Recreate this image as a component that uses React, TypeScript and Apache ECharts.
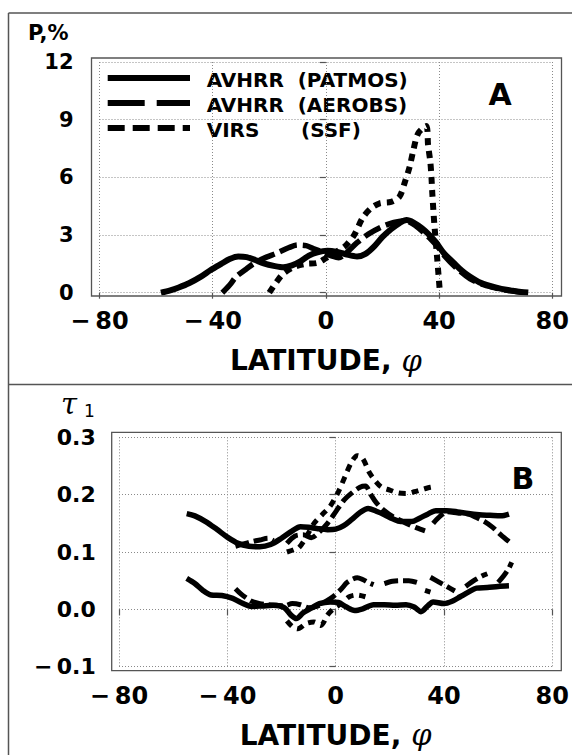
import React, { useEffect, useRef } from "react";
import * as echarts from "echarts";

// ---------- Panel A: frequency P, % vs latitude ----------
const patmosA: [number, number][] = [
  [-58.3, 0], [-55, 0.12], [-52, 0.27], [-48.4, 0.49], [-44, 0.85], [-40.7, 1.18], [-37, 1.5],
  [-34, 1.75], [-31, 1.88], [-28, 1.85], [-25, 1.7], [-22, 1.52], [-18, 1.38], [-15, 1.32],
  [-12, 1.42], [-9, 1.63], [-6, 1.93], [-3, 2.1], [0.5, 2.18], [4, 2.12], [7, 2.0], [11, 1.88],
  [14, 2.02], [17, 2.4], [20, 2.9], [23, 3.3], [26, 3.62], [28.5, 3.78], [31, 3.65], [34, 3.35],
  [36.6, 3.0], [39, 2.6], [41.7, 2.05], [45, 1.58], [48, 1.15], [50.7, 0.85], [54, 0.56],
  [58, 0.35], [62, 0.2], [66, 0.1], [69, 0.04], [71.5, 0.01],
];
const aerobsA: [number, number][] = [
  [-36.6, 0], [-34, 0.4], [-31.7, 0.83], [-28, 1.25], [-25, 1.56], [-21, 1.85], [-17.5, 2.05],
  [-13, 2.35], [-10, 2.48], [-7, 2.45], [-4.5, 2.3], [-1, 2.1], [2, 1.92], [4.5, 1.82], [7, 2.05],
  [11, 2.6], [15, 3.05], [19.8, 3.43], [24, 3.65], [28, 3.75], [31, 3.55], [34, 3.2], [36.6, 2.85],
  [40, 2.3], [42, 1.9], [46, 1.3], [51, 0.72], [56, 0.4], [60, 0.24], [64, 0.12], [68, 0.05], [71, 0.02],
];
const virsA: [number, number][] = [
  [-20, 0], [-17.5, 0.55], [-15, 1.0], [-11, 1.35], [-7, 1.5], [-3, 1.55], [0, 1.8], [4, 2.15],
  [7, 2.45], [10, 3.0], [13, 3.9], [16, 4.4], [19, 4.65], [23, 4.72], [26, 5.0], [28, 5.8],
  [29.6, 6.55], [30.8, 7.34], [32.6, 8.29], [35.5, 8.67], [36.1, 7.68], [36.9, 6.8], [37.3, 6.0],
  [37.6, 5.17], [38.3, 3.6], [39.2, 2.0], [40.3, 0],
];

// ---------- Panel B: optical thickness tau_1 vs latitude ----------
type Pt = [number, number] | "-";
const patmosBHigh: Pt[] = [
  [-55, 0.167], [-52, 0.163], [-48, 0.153], [-44, 0.14], [-40, 0.126], [-36, 0.115], [-32, 0.11],
  [-28, 0.109], [-24, 0.113], [-20, 0.124], [-16, 0.137], [-13, 0.144], [-10, 0.143], [-7, 0.141],
  [-3, 0.139], [0, 0.14], [3, 0.146], [6, 0.157], [9, 0.169], [12, 0.176], [15, 0.171], [18, 0.165],
  [21, 0.158], [24, 0.153], [28, 0.153], [31, 0.159], [34, 0.166], [37, 0.172], [41, 0.172],
  [45, 0.17], [49, 0.167], [53, 0.165], [57, 0.164], [61, 0.163], [64, 0.166],
];
const patmosBLow: Pt[] = [
  [-55, 0.054], [-52, 0.045], [-49, 0.033], [-46, 0.025], [-42, 0.024], [-38, 0.019], [-35, 0.012],
  [-31, 0.005], [-27, 0.006], [-23, 0.007], [-19, 0.003], [-16.5, -0.01], [-14.5, -0.016],
  [-12, -0.006], [-9, 0.002], [-6, 0.01], [-2, 0.013], [1, 0.012], [4, 0.004], [7, -0.002],
  [10, 0.001], [14, 0.008], [18, 0.008], [22, 0.007], [26, 0.008], [29, 0.004], [31.5, -0.004],
  [34, 0.006], [36, 0.013], [40, 0.01], [43, 0.014], [46, 0.022], [49, 0.03], [52, 0.037],
  [56, 0.038], [60, 0.04], [64, 0.041],
];
const aerobsBHigh: Pt[] = [
  [-37, 0.11], [-34, 0.114], [-31, 0.118], [-28, 0.121], [-25, 0.124], [-23, 0.12], "-",
  [-18, 0.115], [-15, 0.128], [-12, 0.13], [-9, 0.125], [-6, 0.135], [-3, 0.15], [0, 0.17],
  [3, 0.19], [6, 0.203], [9, 0.213], [11, 0.215], [13, 0.2], [15, 0.186], [18, 0.172], [21, 0.162],
  [24, 0.155], [27, 0.148], [30, 0.142], [33, 0.137], "-", [36, 0.15], [38, 0.16], [41, 0.17],
  [45, 0.168], [49, 0.166], [52, 0.16], [55, 0.153], [58, 0.143], [61, 0.13], [64, 0.118],
];
const aerobsBLow: Pt[] = [
  [-37, 0.036], [-35, 0.027], [-33, 0.02], [-31, 0.014], [-28, 0.01], [-25, 0.008], [-22, 0.007],
  [-19, 0.006], [-16, 0.01], [-13, 0.008], [-10, 0.003], [-7, 0.005], [-4, 0.013], [-1, 0.022],
  [2, 0.035], [4, 0.046], [6, 0.052], [8, 0.055], [10, 0.052], [12, 0.047], [14, 0.043], "-",
  [18, 0.045], [21, 0.049], [24, 0.05], [27, 0.05], [30, 0.047], "-", [35, 0.056], [38, 0.048],
  [41, 0.04], [44, 0.032], "-", [48, 0.04], [51, 0.05], [54, 0.058], [56, 0.062], "-",
  [60, 0.047], [62, 0.058], [64, 0.072], [65, 0.082],
];
const virsBHigh: Pt[] = [
  [-18, 0.1], [-15.5, 0.104], [-13.5, 0.108], [-11, 0.125], [-8, 0.15], [-5, 0.165], [-2, 0.18],
  [1, 0.205], [3.5, 0.232], [6, 0.258], [8, 0.268], [10, 0.263], [12.5, 0.238], [15, 0.222],
  [17, 0.213], [20, 0.208], [23, 0.203], [26, 0.202], [29, 0.205], [32, 0.209], [35, 0.213], [37, 0.214],
];
const virsBLow: Pt[] = [
  [-18, -0.02], [-16, -0.03], [-14, -0.034], [-11, -0.025], [-8, -0.022], [-5.5, -0.028],
  [-3, -0.01], [-1, 0.0], [2, 0.01], [5, 0.022], [8, 0.025], [11, 0.022], "-", [33, 0.033], [35, 0.03],
];

// ---------- axes ----------
const latTicks = [-80, -40, 0, 40, 80];
const pTicks = [0, 3, 6, 9, 12];
const tauTicks = [-0.1, 0.0, 0.1, 0.2, 0.3];

const legendRows = [
  { left: "AVHRR", right: "(PATMOS)", dash: null as number[] | null },
  { left: "AVHRR", right: "(AEROBS)", dash: [37, 12] },
  { left: "VIRS", right: "(SSF)", dash: [17, 8] },
];

const SANS = '"DejaVu Sans", sans-serif';

function fmtSigned(v: number, digits: number): string {
  const s = Math.abs(v).toFixed(digits);
  if (Math.abs(v) < 1e-9) return (0).toFixed(digits);
  return v < 0 ? "\u2212\u2009" + s : s;
}

export default function App() {
  const ref = useRef<HTMLDivElement | null>(null);

  useEffect(() => {
    if (!ref.current) return;
    const chart = echarts.init(ref.current, null, { renderer: "svg" });

    const tickStyle = { show: true, length: 6, lineStyle: { color: "#555", width: 1.2 } };
    const split = { show: true, lineStyle: { color: "#8a8a8a", width: 1, type: [1, 2] as any } };
    const xName = "{a|LATITUDE,}   {b|\u03C6}";
    const nameStyle = {
      rich: {
        a: { fontFamily: SANS, fontWeight: "bold", fontSize: 28, color: "#000" },
        b: { fontFamily: '"DejaVu Serif", serif', fontStyle: "italic", fontSize: 29, color: "#000" },
      },
    };

    const graphic: any[] = [];
    // outer frame
    graphic.push({ type: "line", shape: { x1: 8.5, y1: 13, x2: 572, y2: 13 }, style: { stroke: "#555", lineWidth: 1.5 } });
    graphic.push({ type: "line", shape: { x1: 8.5, y1: 13, x2: 8.5, y2: 755 }, style: { stroke: "#555", lineWidth: 1.5 } });
    graphic.push({ type: "line", shape: { x1: 8.5, y1: 384.5, x2: 572, y2: 384.5 }, style: { stroke: "#555", lineWidth: 1.5 } });
    // plot frames
    graphic.push({ type: "rect", shape: { x: 91.5, y: 58, width: 470, height: 238 }, style: { fill: "none", stroke: "#555", lineWidth: 1.3 }, z: 10 });
    graphic.push({ type: "rect", shape: { x: 111.7, y: 432.3, width: 449.6, height: 238.4 }, style: { fill: "none", stroke: "#555", lineWidth: 1.3 }, z: 10 });
    // axis titles
    graphic.push({ type: "text", x: 28, y: 33, style: { text: "P,%", font: `bold 21px ${SANS}`, fill: "#000", verticalAlign: "middle", align: "left" } });
    graphic.push({ type: "text", x: 61, y: 404, style: { text: "\u03C4", font: 'italic 29px "DejaVu Serif", serif', fill: "#000", verticalAlign: "middle", align: "left" } });
    graphic.push({ type: "text", x: 84, y: 411, style: { text: "1", font: `17px ${SANS}`, fill: "#000", verticalAlign: "middle", align: "left" } });
    // panel letters
    graphic.push({ type: "text", x: 500, y: 94, style: { text: "A", font: `bold 30px ${SANS}`, fill: "#000", verticalAlign: "middle", align: "center" } });
    graphic.push({ type: "text", x: 523, y: 478, style: { text: "B", font: `bold 30px ${SANS}`, fill: "#000", verticalAlign: "middle", align: "center" } });
    // legend
    legendRows.forEach((r, i) => {
      const ly = 78 + i * 25;
      graphic.push({
        type: "line",
        shape: { x1: 107.7, y1: ly, x2: 190, y2: ly },
        style: { stroke: "#000", lineWidth: 6, lineDash: r.dash || undefined },
      });
      graphic.push({ type: "text", x: 206.7, y: ly + 1.5, style: { text: r.left, font: `bold 20px ${SANS}`, fill: "#000", verticalAlign: "middle", align: "left" } });
      graphic.push({ type: "text", x: i === 2 ? 301 : 297.7, y: ly + 1.5, style: { text: r.right, font: `bold 20px ${SANS}`, fill: "#000", verticalAlign: "middle", align: "left" } });
    });

    const line = (name: string, data: any[], xi: number, width: number, dash: number[] | null) => ({
      type: "line",
      name,
      xAxisIndex: xi,
      yAxisIndex: xi,
      data,
      showSymbol: false,
      symbol: "none",
      smooth: 0.3,
      clip: false,
      connectNulls: false,
      lineStyle: { color: "#000", width, type: dash ? dash : "solid", cap: "butt", join: "round" },
      z: 5,
    });

    chart.setOption({
      animation: false,
      backgroundColor: "#fff",
      grid: [
        { left: 99.5, top: 62, width: 453.5, height: 230.7 },
        { left: 119, top: 437.3, width: 434, height: 229.4 },
      ],
      xAxis: [
        {
          gridIndex: 0, type: "value", min: latTicks[0], max: latTicks[latTicks.length - 1], interval: 40, offset: 3.3,
          axisLine: { show: false }, axisTick: tickStyle, splitLine: split,
          axisLabel: { margin: 13, fontFamily: SANS, fontWeight: "bold", fontSize: 24, color: "#000", formatter: (v: number) => fmtSigned(v, 0) },
          name: xName, nameLocation: "middle", nameGap: 50, nameTextStyle: nameStyle,
        },
        {
          gridIndex: 1, type: "value", min: latTicks[0], max: latTicks[latTicks.length - 1], interval: 40, offset: 4,
          axisLine: { show: false }, axisTick: tickStyle, splitLine: split,
          axisLabel: { margin: 13, fontFamily: SANS, fontWeight: "bold", fontSize: 24, color: "#000", formatter: (v: number) => fmtSigned(v, 0) },
          name: xName, nameLocation: "middle", nameGap: 50, nameTextStyle: nameStyle,
        },
      ],
      yAxis: [
        {
          gridIndex: 0, type: "value", min: pTicks[0], max: pTicks[pTicks.length - 1], interval: 3, offset: 8,
          axisLine: { show: false }, axisTick: tickStyle, splitLine: split,
          axisLabel: { margin: 18, fontFamily: SANS, fontWeight: "bold", fontSize: 21, color: "#000", formatter: (v: number) => fmtSigned(v, 0) },
        },
        {
          gridIndex: 1, type: "value", min: tauTicks[0], max: tauTicks[tauTicks.length - 1], interval: 0.1, offset: 7.3,
          axisLine: { show: false }, axisTick: tickStyle, splitLine: split,
          axisLabel: { margin: 16, fontFamily: SANS, fontWeight: "bold", fontSize: 22, color: "#000", formatter: (v: number) => fmtSigned(v, 1) },
        },
      ],
      graphic,
      series: [
        line("AVHRR (PATMOS)", patmosA, 0, 6, null),
        line("AVHRR (AEROBS)", aerobsA, 0, 5.5, [18, 6]),
        line("VIRS (SSF)", virsA, 0, 6, [7, 6]),
        line("AVHRR (PATMOS) upper", patmosBHigh, 1, 5.5, null),
        line("AVHRR (PATMOS) lower", patmosBLow, 1, 5.5, null),
        line("AVHRR (AEROBS) upper", aerobsBHigh, 1, 5, [14, 5]),
        line("AVHRR (AEROBS) lower", aerobsBLow, 1, 5, [14, 5]),
        line("VIRS (SSF) upper", virsBHigh, 1, 5, [7, 6]),
        line("VIRS (SSF) lower", virsBLow, 1, 5, [7, 6]),
      ],
    });

    return () => chart.dispose();
  }, []);

  return (
    <div
      ref={ref}
      style={{ position: "fixed", left: 0, top: 0, width: 572, height: 755, background: "#fff" }}
    />
  );
}
